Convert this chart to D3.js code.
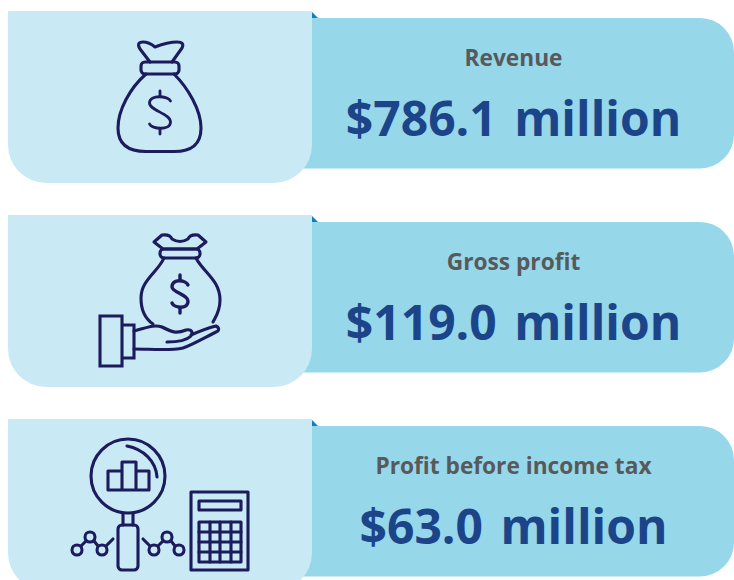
<!DOCTYPE html>
<html>
<head>
<meta charset="utf-8">
<script src="https://cdn.jsdelivr.net/npm/d3@7"></script>
<style>
  html, body { margin: 0; padding: 0; background: #fff; overflow: hidden; }
  svg { display: block; }
  text { font-family: "Open Sans", "Noto Sans", sans-serif; text-anchor: middle; }
</style>
</head>
<body>
<svg id="chart" width="734" height="580"></svg>
<script>
// Figures shown on the three cards
const labels = ['Revenue', 'Gross profit', 'Profit before income tax'];
const values = [786.1, 119.0, 63.0];
const icons  = ['bag', 'hand', 'analysis'];

const W = 734, H = 580;
const LIGHT = '#c9eaf4', BAND = '#96d7ea', CORNER = '#0f7fc0';
const GREY = '#58595b', NAVY = '#1c4488', INK = '#1c1b5e';

const fmt = d3.format('$.1f');
const rowY = d3.scalePoint().domain(labels).range([0, 408]);

const svg = d3.select('#chart').attr('viewBox', `0 0 ${W} ${H}`);

// ── Card shapes ───────────────────────────────────────────────────────────────

function bandPath() {
  return 'M290,18 H700 A34,34 0 0 1 734,52 V134 A34,34 0 0 1 700,168.5 H290 Z';
}

function lightPath() {
  return 'M8,11 H312 V145 A38,38 0 0 1 274,183 H46 A38,38 0 0 1 8,145 Z';
}

const rows = svg.selectAll('g.row')
  .data(labels.map((label, i) => ({ label, value: values[i], icon: icons[i] })))
  .enter().append('g')
  .attr('class', 'row')
  .attr('transform', d => `translate(0,${rowY(d.label)})`);

rows.append('path').attr('d', bandPath()).attr('fill', BAND);
rows.append('path').attr('d', 'M311,11 L318,18 H311 Z').attr('fill', CORNER);
rows.append('path').attr('d', lightPath()).attr('fill', LIGHT);

rows.append('text')
  .attr('x', 513.5).attr('y', 66)
  .attr('font-size', 22.7).attr('font-weight', 700).attr('fill', GREY)
  .text(d => d.label);

rows.append('text')
  .attr('x', 513.5).attr('y', 136)
  .attr('font-size', 48).attr('font-weight', 700).attr('word-spacing', 5).attr('fill', NAVY)
  .text(d => `${fmt(d.value)} million`);

// ── Icons ─────────────────────────────────────────────────────────────────────

const iconG = rows.append('g')
  .attr('fill', 'none').attr('stroke', INK)
  .attr('stroke-linejoin', 'round').attr('stroke-linecap', 'round');

function dollar(g, cx, top, bottom, w, sw) {
  const mid = (top + bottom) / 2, h = (bottom - top) / 2 - 5;
  g.append('path').attr('stroke-width', sw).attr('d',
    `M${cx + w},${mid - h + 5} C${cx + w - 2},${mid - h} ${cx - w},${mid - h - 2} ${cx - w},${mid - h + 7} ` +
    `C${cx - w},${mid - 2} ${cx + w},${mid + 1} ${cx + w},${mid + h - 7} ` +
    `C${cx + w},${mid + h + 2} ${cx - w + 2},${mid + h} ${cx - w},${mid + h - 5}`);
  g.append('path').attr('stroke-width', sw).attr('d', `M${cx},${top} V${mid - h} M${cx},${mid + h} V${bottom}`);
}

function drawBag(g) {
  g.attr('stroke-width', 3.1);
  g.append('path').attr('d', 'M150,62 L140,49 Q136,42 143,42 Q149,42 155,47 Q168,42 177,42 Q185,42 182,48 L172,62');
  g.append('rect').attr('x', 141).attr('y', 62).attr('width', 38).attr('height', 12).attr('rx', 4);
  g.append('path').attr('d',
    'M146,74 C130,88 118,110 118,128 C118,146 130,151.5 146,151.5 H174 C190,151.5 201,146 201,128 C201,110 188,88 174,74');
  dollar(g, 160, 91, 134, 10.5, 2.8);
}

function drawHand(g) {
  g.attr('stroke-width', 3.1);
  g.append('path').attr('d',
    'M154,32 L162,25 Q170,24 172,29 Q180,34 188,29 Q190,24 198,25 L206,32 L197,39 H163 Z');
  g.append('rect').attr('x', 160).attr('y', 39).attr('width', 40).attr('height', 9).attr('rx', 4);
  g.append('path').attr('d',
    'M164,48 C158,62 141,70 141,88 C141,102 147,110 153,114 M196,48 C203,62 220,70 220,90 C220,102 215,108 213,112');
  dollar(g, 180, 65, 103, 8, 3.4);
  g.append('path').attr('stroke-linejoin', 'miter').attr('d', 'M100,106 H122 V156 H100 Z M122,115 H134 V148 H122');
  g.append('path').attr('d',
    'M134,121 C146,118 154,114 162,117 C172,122 176,124 186,120 C192,119 193,122 191,126 C186,131 176,132 167,132 ' +
    'M191,125 C200,121 208,118 216,116 C220,118 219,121 216,122 C204,128 192,135 183,138 C170,141 150,139 134,139');
}

function drawAnalysis(g) {
  g.attr('stroke-width', 3.1);
  g.append('circle').attr('cx', 128).attr('cy', 68).attr('r', 37);
  g.append('path').attr('d', 'M127,38 C143,41 156,53 157,69');
  g.append('path').attr('d', 'M108,82 V63 H122 V54 H136 V63 H149 V82 Z M122,63 V82 M136,63 V82');
  g.append('path').attr('d', 'M123,105 V117 M133,105 V117');
  g.append('rect').attr('x', 118).attr('y', 117).attr('width', 20).attr('height', 45).attr('rx', 4);
  g.append('path').attr('d', 'M81,138 L86,133 M94,133 L98,138 M106,138 L113,131 M143,131 L150,138 M158,138 L163,133 M171,133 L175,138');
  [[77, 142], [90, 129], [102, 142], [154, 142], [167, 129], [179, 142]].forEach(([cx, cy]) => {
    g.append('circle').attr('cx', cx).attr('cy', cy).attr('r', 5);
  });
  // calculator
  g.append('rect').attr('x', 191).attr('y', 84).attr('width', 57).attr('height', 78);
  g.append('rect').attr('x', 199).attr('y', 93).attr('width', 42).attr('height', 9);
  g.append('rect').attr('x', 199).attr('y', 114).attr('width', 42).attr('height', 40);
  g.append('path').attr('d',
    'M199,124 H241 M199,134 H241 M199,144 H241 M210,114 V154 M220,114 V154 M231,114 V154');
}

const iconDraw = { bag: drawBag, hand: drawHand, analysis: drawAnalysis };
iconG.each(function(d) {
  const g = d3.select(this);
  iconDraw[d.icon](g);
  // the hand icon's coordinates start 6px above its card
  if (d.icon === 'hand') g.attr('transform', 'translate(0,6)');
});
</script>
</body>
</html>
